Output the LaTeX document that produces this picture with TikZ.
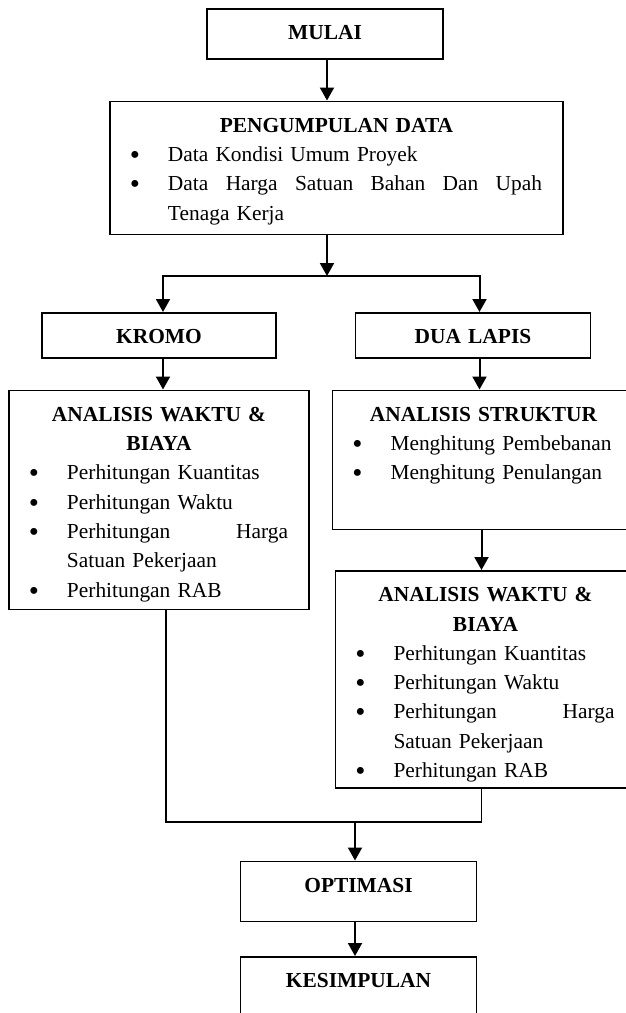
\documentclass[tikz,border=0pt]{standalone}
\usepackage{fontspec}
\usepackage{graphicx}
\setmainfont{Liberation Serif}
\usetikzlibrary{positioning,arrows.meta}

\hyphenpenalty=10000
\newcommand{\boxhead}[1]{{\centering\bfseries\noindent\rule{0pt}{31pt}#1%
  \leftskip=0pt plus 1fil\rightskip=0pt plus 1fil\parfillskip=0pt\par}}
\newcommand{\bitem}[1]{{\noindent\llap{\raisebox{-3pt}{\scalebox{1.35}{\textbullet}}\hspace{28pt}}#1%
  \leftskip=58pt\rightskip=21pt\parfillskip=0pt plus 1fil\par}}
\newcommand{\boxfoot}[1]{\rule[-#1]{0pt}{#1}}

\tikzset{
  box/.style={draw, line width=1.5pt, inner sep=0pt, font=\fontsize{21.4pt}{29.3pt}\selectfont},
  arr/.style={line width=2pt, -{Triangle[width=14pt,length=13pt]}},
  link/.style={line width=1.6pt},
}

\begin{document}
\begin{tikzpicture}[x=1pt,y=-1pt]
      \useasboundingbox (0,0) rectangle (625,1013);

      \node[box, text width=236pt, anchor=north] (mulai) at (325,8) {\boxhead{MULAI\boxfoot{19pt}}};
      \node[box, text width=453pt, below=41pt of mulai, xshift=11.5pt] (data) {%
        \boxhead{PENGUMPULAN DATA}
        \bitem{Data Kondisi Umum Proyek}
        \bitem{Data\hfill Harga\hfill Satuan\hfill Bahan\hfill Dan\hfill Upah\break Tenaga Kerja\boxfoot{14.1pt}}};
      \node[box, text width=234pt, below=77pt of data, xshift=-177.5pt] (kromo) {\boxhead{KROMO\boxfoot{14pt}}};
      \node[box, text width=235pt, right=78pt of kromo] (dualapis) {\boxhead{DUA LAPIS\boxfoot{14pt}}};
      \node[box, text width=300pt, below=31pt of kromo] (waktuA) {%
        \boxhead{ANALISIS WAKTU \&\\BIAYA}
        \bitem{Perhitungan Kuantitas}
        \bitem{Perhitungan Waktu}
        \bitem{Perhitungan\hfill Harga\break Satuan Pekerjaan}
        \bitem{Perhitungan RAB\boxfoot{12.2pt}}};
      \node[box, text width=302pt, below=31pt of dualapis, xshift=10.5pt] (struktur) {%
        \boxhead{ANALISIS STRUKTUR}
        \bitem{Menghitung Pembebanan}
        \bitem{Menghitung Penulangan\boxfoot{49.4pt}}};
      \node[box, text width=300pt, below=40pt of struktur, xshift=2pt] (waktuB) {%
        \boxhead{ANALISIS WAKTU \&\\BIAYA}
        \bitem{Perhitungan Kuantitas}
        \bitem{Perhitungan Waktu}
        \bitem{Perhitungan\hfill Harga\break Satuan Pekerjaan}
        \bitem{Perhitungan RAB\boxfoot{10.2pt}}};
      \node[box, text width=236pt, below=72pt of waktuB, xshift=-127pt] (optimasi) {\boxhead{OPTIMASI\boxfoot{29pt}}};
      \node[box, text width=236pt, below=34pt of optimasi] (kesimpulan) {\boxhead{KESIMPULAN\boxfoot{69pt}}};

      \coordinate (split) at (327,276);
      \coordinate (join) at (355,822);

      \draw[arr] (mulai.south -| split) -- (data.north -| split);
      \draw[arr] (data.south -| split) -- (split);
      \draw[arr] (split) -| ([xshift=4pt]kromo.north);
      \draw[arr] (split) -| ([xshift=6.5pt]dualapis.north);
      \draw[arr] ([xshift=4pt]kromo.south) -- ([xshift=4pt]waktuA.north);
      \draw[arr] ([xshift=6.5pt]dualapis.south) -- ([xshift=-4pt]struktur.north);
      \draw[arr] ([xshift=-2pt]struktur.south) -- ([xshift=-4pt]waktuB.north);
      \draw[link] ([xshift=7pt]waktuA.south) |- (join);
      \draw[link] ([xshift=-4pt]waktuB.south) |- (join);
      \draw[arr] (join) -- (optimasi.north -| join);
      \draw[arr] (optimasi.south -| join) -- (kesimpulan.north -| join);
    \end{tikzpicture}
\end{document}
